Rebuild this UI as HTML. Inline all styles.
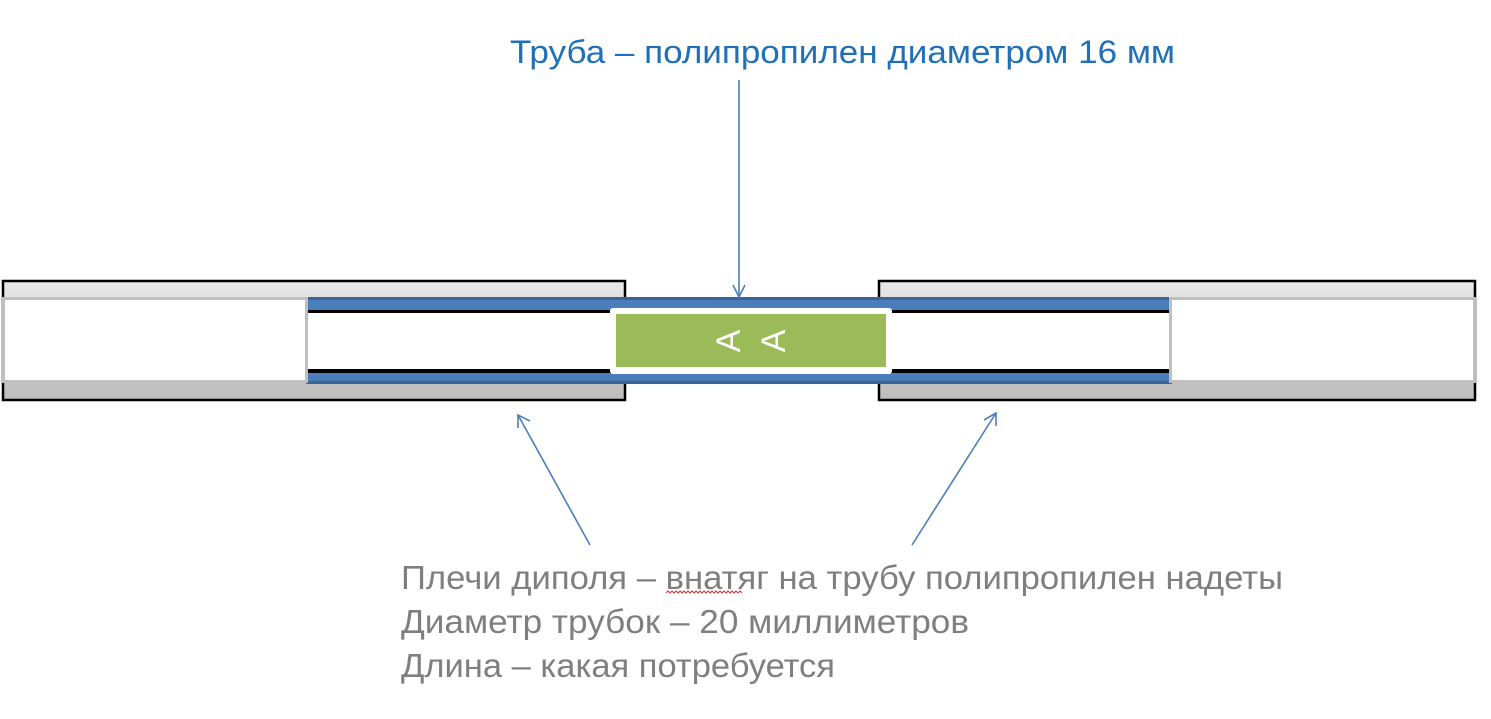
<!DOCTYPE html>
<html><head><meta charset="utf-8"><style>
html,body{margin:0;padding:0;background:#fff;width:1491px;height:719px;overflow:hidden}
text{font-family:"Liberation Sans",sans-serif}
</style></head><body>
<svg width="1491" height="719" viewBox="0 0 1491 719" xmlns="http://www.w3.org/2000/svg">
<defs>
<linearGradient id="g1" x1="0" y1="0" x2="0" y2="1">
<stop offset="0" stop-color="#e8e8e8"/><stop offset="1" stop-color="#bdbdbd"/>
</linearGradient>
</defs>
<rect x="3" y="281" width="622" height="119" fill="url(#g1)" stroke="#000" stroke-width="2.5"/>
<rect x="879" y="281" width="596" height="119" fill="url(#g1)" stroke="#000" stroke-width="2.5"/>
<rect x="306" y="297" width="866" height="87" fill="#4a7ebb"/>
<rect x="306" y="297" width="866" height="3" fill="#3b6496"/>
<rect x="306" y="381" width="866" height="3" fill="#3b6496"/>
<rect x="306" y="310" width="866" height="63" fill="#000"/>
<rect x="306" y="313" width="866" height="56" fill="#fff"/>
<rect x="3.5" y="298.5" width="303" height="83" fill="#fff" stroke="#bfbfbf" stroke-width="3"/>
<rect x="1170.5" y="298.5" width="304" height="83" fill="#fff" stroke="#bfbfbf" stroke-width="3"/>
<rect x="610" y="308" width="282" height="66" rx="3" fill="#fff"/>
<rect x="616" y="314" width="270" height="53" fill="#9bbb59"/>
<text transform="translate(728,341) rotate(-90)" text-anchor="middle" font-size="34" fill="#fff" dy="12">A</text>
<text transform="translate(773,341) rotate(-90)" text-anchor="middle" font-size="34" fill="#fff" dy="12">A</text>
<g stroke="#4a7ebb" stroke-width="1.6" fill="none">
<line x1="739" y1="80" x2="739" y2="297"/>
<polyline points="733,285 739,297 745,285"/>
<line x1="590" y1="545" x2="518" y2="415"/>
<polyline points="518,428 518,415 530,421"/>
<line x1="912" y1="545" x2="996" y2="413"/>
<polyline points="984,420 996,413 996,426"/>
</g>
<text x="510" y="63" font-size="32" fill="#1f6fb9" textLength="665" lengthAdjust="spacingAndGlyphs">Труба – полипропилен диаметром 16 мм</text>
<text x="401" y="589" font-size="33" fill="#7f7f7f" textLength="882" lengthAdjust="spacingAndGlyphs">Плечи диполя – <tspan>внатяг</tspan> на трубу полипропилен надеты</text>
<path d="M666 593 l2 -2 l2 2 l2 -2 l2 2 l2 -2 l2 2 l2 -2 l2 2 l2 -2 l2 2 l2 -2 l2 2 l2 -2 l2 2 l2 -2 l2 2 l2 -2 l2 2 l2 -2 l2 2 l2 -2 l2 2 l2 -2 l2 2 l2 -2 l2 2 l2 -2 l2 2 l2 -2 l2 2 l2 -2 l2 2 l2 -2 l2 2 l2 -2 l2 2 l2 -2 l2 2" stroke="#e03030" stroke-width="1" fill="none"/>
<text x="401" y="633" font-size="33" fill="#7f7f7f" textLength="568" lengthAdjust="spacingAndGlyphs">Диаметр трубок – 20 миллиметров</text>
<text x="401" y="677" font-size="33" fill="#7f7f7f" textLength="434" lengthAdjust="spacingAndGlyphs">Длина – какая потребуется</text>
</svg>
</body></html>
